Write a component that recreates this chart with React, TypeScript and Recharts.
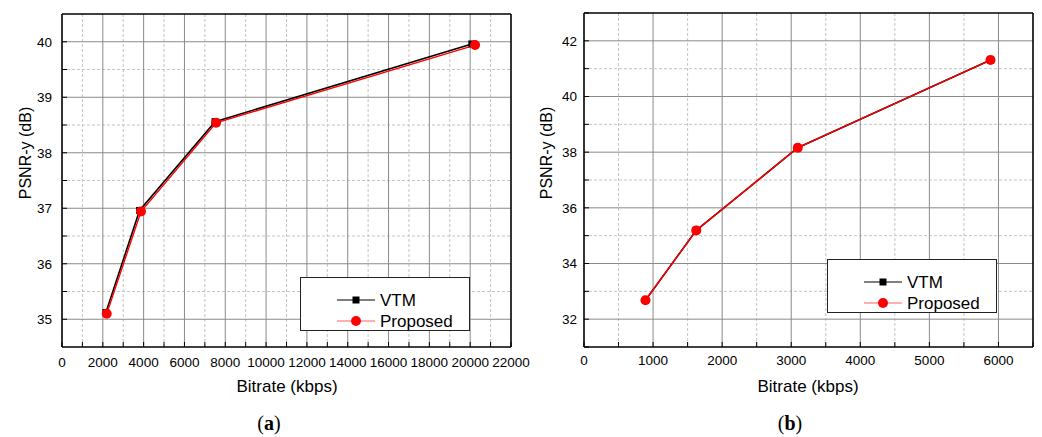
import { CartesianGrid, Line, LineChart, XAxis, YAxis } from "recharts";

// ── Data: panel (a) ───────────────────────────────────────────────────────────
const A_VTM_RATE = [2150, 3800, 7500, 20080];
const A_VTM_PSNR = [35.12, 36.96, 38.56, 39.96];
const A_PROP_RATE = [2190, 3870, 7550, 20240];
const A_PROP_PSNR = [35.1, 36.94, 38.54, 39.94];
const A_X_TICKS = [0, 1000, 2000, 3000, 4000, 5000, 6000, 7000, 8000, 9000, 10000, 11000, 12000, 13000, 14000, 15000, 16000, 17000, 18000, 19000, 20000, 21000, 22000];
const A_X_LABELS = [0, 2000, 4000, 6000, 8000, 10000, 12000, 14000, 16000, 18000, 20000, 22000];
const A_Y_TICKS = [35, 35.5, 36, 36.5, 37, 37.5, 38, 38.5, 39, 39.5, 40];
const A_Y_LABELS = [35, 36, 37, 38, 39, 40];

// ── Data: panel (b) ───────────────────────────────────────────────────────────
const B_VTM_RATE = [890, 1625, 3095, 5885];
const B_VTM_PSNR = [32.68, 35.19, 38.16, 41.31];
const B_PROP_RATE = [890, 1625, 3095, 5885];
const B_PROP_PSNR = [32.68, 35.19, 38.16, 41.31];
const B_X_TICKS = [0, 500, 1000, 1500, 2000, 2500, 3000, 3500, 4000, 4500, 5000, 5500, 6000, 6500];
const B_X_LABELS = [0, 1000, 2000, 3000, 4000, 5000, 6000];
const B_Y_TICKS = [31, 32, 33, 34, 35, 36, 37, 38, 39, 40, 41, 42, 43];
const B_Y_LABELS = [32, 34, 36, 38, 40, 42];

// ── Theme ─────────────────────────────────────────────────────────────────────
const FONT = "'Liberation Sans', Arial, sans-serif";
const AXIS_LINE = { stroke: "#000", strokeWidth: 1.6 };
const TICK_LINE = { stroke: "#000", strokeWidth: 1 };
const MAJOR_GRID = "#8a8a8a";
const MINOR_GRID = "#c4c4c4";

const zip = (xs: number[], ys: number[]) => xs.map((x, i) => ({ x, y: ys[i] }));

const Square = (p: any) => {
  if (p.cx == null || p.cy == null) return <g key={p.index} />;
  return <rect key={p.index} x={p.cx - 3.5} y={p.cy - 3.5} width={7} height={7} fill="#000" />;
};
const Circle = (p: any) => {
  if (p.cx == null || p.cy == null) return <g key={p.index} />;
  return <circle key={p.index} cx={p.cx} cy={p.cy} r={5} fill="#ff0000" />;
};

type PanelProps = {
  left: number;
  width: number;
  caption: string;
  vtm: { x: number; y: number }[];
  prop: { x: number; y: number }[];
  xDomain: [number, number];
  yDomain: [number, number];
  xTicks: number[];
  xLabels: number[];
  yTicks: number[];
  yLabels: number[];
  margin: { top: number; right: number; bottom: number; left: number };
  yTickMargin: number;
  xTickMargin: number;
  legend: { left: number; top: number };
};

function Panel(p: PanelProps) {
  const inside = (v: number, d: [number, number]) => v > d[0] && v < d[1];
  const majorX = p.xLabels.filter((v) => inside(v, p.xDomain));
  const majorY = p.yLabels.filter((v) => inside(v, p.yDomain));
  const minorX = p.xTicks.filter((v) => !p.xLabels.includes(v) && inside(v, p.xDomain));
  const minorY = p.yTicks.filter((v) => !p.yLabels.includes(v) && inside(v, p.yDomain));
  const fmtX = (v: number) => (p.xLabels.includes(v) ? String(v) : "");
  const fmtY = (v: number) => (p.yLabels.includes(v) ? String(v) : "");
  const tickStyle = { fill: "#000", fontSize: 13.5, fontFamily: FONT };

  return (
    <div style={{ position: "absolute", left: p.left, top: 0, width: p.width, height: 437 }}>
      <LineChart width={p.width} height={380} margin={p.margin}>
        <CartesianGrid verticalValues={minorX} horizontalValues={minorY} stroke={MINOR_GRID} strokeDasharray="3 2" />
        <CartesianGrid verticalValues={majorX} horizontalValues={majorY} stroke={MAJOR_GRID} />
        <XAxis
          type="number"
          dataKey="x"
          domain={p.xDomain}
          allowDataOverflow
          ticks={p.xTicks}
          interval={0}
          tickFormatter={fmtX}
          height={30}
          tickSize={-5}
          tickMargin={p.xTickMargin}
          axisLine={AXIS_LINE}
          tickLine={TICK_LINE}
          tick={tickStyle}
        />
        <XAxis
          xAxisId="top"
          orientation="top"
          mirror
          type="number"
          domain={p.xDomain}
          allowDataOverflow
          ticks={p.xTicks}
          interval={0}
          tick={false}
          tickSize={5}
          axisLine={AXIS_LINE}
          tickLine={TICK_LINE}
        />
        <YAxis
          type="number"
          domain={p.yDomain}
          allowDataOverflow
          ticks={p.yTicks}
          interval={0}
          tickFormatter={fmtY}
          width={40}
          tickSize={-5}
          tickMargin={p.yTickMargin}
          axisLine={AXIS_LINE}
          tickLine={TICK_LINE}
          tick={tickStyle}
        />
        <YAxis
          yAxisId="right"
          orientation="right"
          mirror
          type="number"
          domain={p.yDomain}
          allowDataOverflow
          ticks={p.yTicks}
          interval={0}
          tick={false}
          tickSize={5}
          axisLine={AXIS_LINE}
          tickLine={TICK_LINE}
        />
        <Line data={p.vtm} dataKey="y" stroke="#000" strokeWidth={1.6} dot={Square} activeDot={false} isAnimationActive={false} />
        <Line data={p.prop} dataKey="y" stroke="#ff0000" strokeWidth={1.4} dot={Circle} activeDot={false} isAnimationActive={false} />
      </LineChart>

      {/* axis titles */}
      <div
        style={{
          position: "absolute", left: 26, top: 153, fontFamily: FONT, fontSize: 16,
          transform: "translate(-50%, -50%) rotate(-90deg)", whiteSpace: "nowrap",
        }}
      >
        PSNR-y (dB)
      </div>
      <div
        style={{
          position: "absolute", left: 287, top: 387, fontFamily: FONT, fontSize: 17,
          transform: "translate(-50%, -50%)", whiteSpace: "nowrap",
        }}
      >
        Bitrate (kbps)
      </div>
      <div
        style={{
          position: "absolute", left: 269, top: 423, fontFamily: "'Liberation Serif', serif", fontSize: 20,
          transform: "translate(-50%, -50%)", whiteSpace: "nowrap",
        }}
      >
        (<b>{p.caption}</b>)
      </div>

      {/* legend */}
      <svg
        width={170}
        height={54}
        style={{ position: "absolute", left: p.legend.left, top: p.legend.top, background: "#fff" }}
      >
        <rect x={0.5} y={0.5} width={169} height={53} fill="#fff" stroke="#222" strokeWidth={1} />
        <line x1={37} x2={75} y1={23} y2={23} stroke="#000" strokeWidth={1.2} />
        <rect x={52.5} y={19.5} width={7} height={7} fill="#000" />
        <text x={80} y={23} dominantBaseline="central" fontFamily={FONT} fontSize={17}>VTM</text>
        <line x1={37} x2={75} y1={44} y2={44} stroke="#ff6060" strokeWidth={1.2} />
        <circle cx={56} cy={44} r={5} fill="#ff0000" />
        <text x={80} y={44} dominantBaseline="central" fontFamily={FONT} fontSize={17}>Proposed</text>
      </svg>
    </div>
  );
}

export default function App() {
  return (
    <div style={{ position: "absolute", left: 0, top: 0, width: 1042, height: 437, background: "#fff" }}>
      <Panel
        left={0}
        width={545}
        caption="a"
        vtm={zip(A_VTM_RATE, A_VTM_PSNR)}
        prop={zip(A_PROP_RATE, A_PROP_PSNR)}
        xDomain={[0, 22000]}
        yDomain={[34.5, 40.5]}
        xTicks={A_X_TICKS}
        xLabels={A_X_LABELS}
        yTicks={A_Y_TICKS}
        yLabels={A_Y_LABELS}
        margin={{ top: 14, right: 34, bottom: 3, left: 22 }}
        yTickMargin={15}
        xTickMargin={15}
        legend={{ left: 300, top: 277 }}
      />
      <Panel
        left={521}
        width={521}
        caption="b"
        vtm={zip(B_VTM_RATE, B_VTM_PSNR)}
        prop={zip(B_PROP_RATE, B_PROP_PSNR)}
        xDomain={[0, 6500]}
        yDomain={[31, 43]}
        xTicks={B_X_TICKS}
        xLabels={B_X_LABELS}
        yTicks={B_Y_TICKS}
        yLabels={B_Y_LABELS}
        margin={{ top: 13, right: 9, bottom: 3, left: 23 }}
        yTickMargin={12}
        xTickMargin={13}
        legend={{ left: 306, top: 259 }}
      />
    </div>
  );
}
